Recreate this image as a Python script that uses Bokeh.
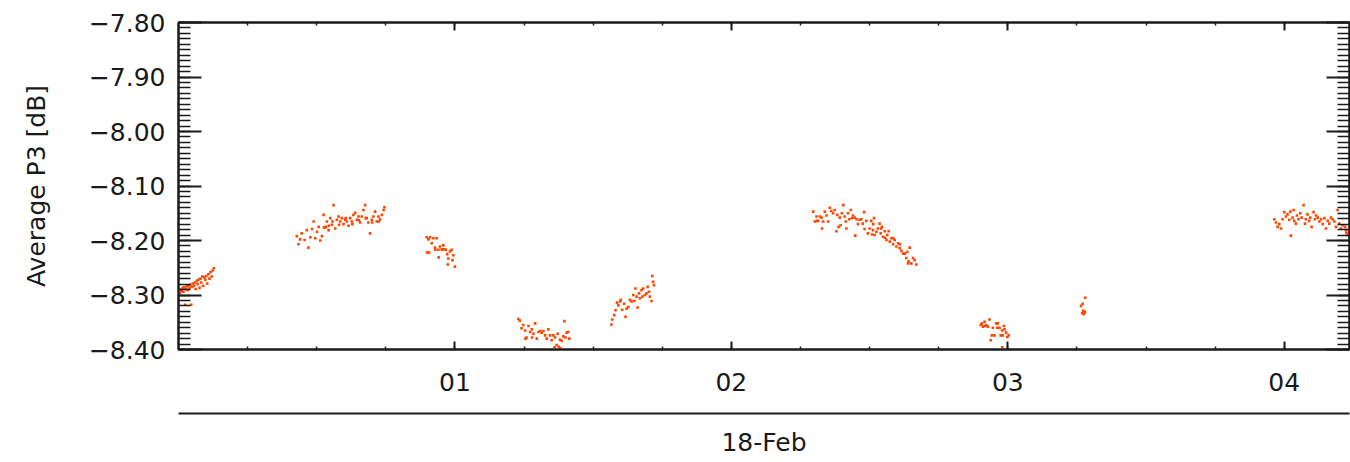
import numpy as np
from bokeh.plotting import figure
from bokeh.models import (ColumnDataSource, Range1d, LinearAxis, FixedTicker,
                          CustomJSTickFormatter)
from bokeh.embed import file_html
from bokeh.resources import INLINE

# ---------------- data (hours after 00 UT on 18-Feb, average P3 in dB) ----------------
s1_h = [0.003, 0.006, 0.009, 0.012, 0.015, 0.018, 0.021, 0.024, 0.027, 0.030,
        0.033, 0.036, 0.040, 0.043, 0.046, 0.049, 0.052, 0.056, 0.059, 0.062,
        0.066, 0.069, 0.072, 0.076, 0.079, 0.082, 0.086, 0.089, 0.093, 0.097,
        0.100, 0.104, 0.108, 0.112, 0.116, 0.120, 0.124, 0.128]
s1_db = [-8.293, -8.296, -8.290, -8.292, -8.287, -8.294, -8.286, -8.318, -8.289, -8.284,
         -8.291, -8.283, -8.287, -8.281, -8.318, -8.285, -8.279, -8.283, -8.277, -8.289,
         -8.274, -8.280, -8.272, -8.287, -8.270, -8.277, -8.266, -8.283, -8.268, -8.272,
         -8.265, -8.279, -8.262, -8.270, -8.258, -8.266, -8.255, -8.251]

s2_h = [0.428, 0.434, 0.440, 0.446, 0.456, 0.464, 0.470, 0.477, 0.483, 0.489,
        0.495, 0.501, 0.507, 0.513, 0.519, 0.525, 0.526, 0.531, 0.533, 0.537,
        0.543, 0.544, 0.549, 0.555, 0.557, 0.561, 0.567, 0.573, 0.579, 0.581,
        0.585, 0.591, 0.597, 0.603, 0.605, 0.609, 0.615, 0.621, 0.627, 0.629,
        0.633, 0.639, 0.645, 0.651, 0.653, 0.657, 0.663, 0.669, 0.675, 0.677,
        0.681, 0.687, 0.693, 0.699, 0.701, 0.705, 0.711, 0.717, 0.723, 0.725,
        0.729, 0.736, 0.742, 0.745]
s2_db = [-8.192, -8.207, -8.198, -8.187, -8.199, -8.181, -8.213, -8.194, -8.179, -8.165,
         -8.196, -8.184, -8.175, -8.200, -8.192, -8.153, -8.176, -8.176, -8.175, -8.165,
         -8.181, -8.173, -8.159, -8.171, -8.165, -8.135, -8.178, -8.162, -8.156, -8.171,
         -8.165, -8.159, -8.170, -8.162, -8.159, -8.165, -8.173, -8.159, -8.165, -8.170,
         -8.153, -8.149, -8.162, -8.156, -8.163, -8.167, -8.156, -8.144, -8.135, -8.159,
         -8.159, -8.167, -8.187, -8.162, -8.167, -8.156, -8.147, -8.165, -8.156, -8.165,
         -8.161, -8.153, -8.144, -8.139]

s3_h = [0.898, 0.899, 0.904, 0.907, 0.910, 0.916, 0.922, 0.928, 0.929, 0.934,
        0.940, 0.941, 0.946, 0.952, 0.955, 0.958, 0.962, 0.967, 0.972, 0.974,
        0.976, 0.982, 0.988, 0.991, 0.994, 1.000]
s3_db = [-8.194, -8.222, -8.198, -8.222, -8.194, -8.205, -8.196, -8.213, -8.217, -8.196,
         -8.217, -8.231, -8.211, -8.216, -8.217, -8.209, -8.216, -8.217, -8.225, -8.244,
         -8.233, -8.220, -8.217, -8.236, -8.227, -8.248]

s4_h = [1.229, 1.235, 1.241, 1.247, 1.254, 1.255, 1.259, 1.266, 1.272, 1.278,
        1.279, 1.284, 1.290, 1.296, 1.302, 1.308, 1.314, 1.320, 1.326, 1.332,
        1.338, 1.344, 1.350, 1.356, 1.360, 1.362, 1.368, 1.372, 1.376, 1.380,
        1.381, 1.386, 1.392, 1.396, 1.400, 1.404, 1.410, 1.414]
s4_db = [-8.344, -8.347, -8.361, -8.355, -8.365, -8.380, -8.378, -8.357, -8.368, -8.363,
         -8.378, -8.371, -8.352, -8.380, -8.368, -8.366, -8.369, -8.366, -8.374, -8.380,
         -8.363, -8.374, -8.383, -8.374, -8.396, -8.378, -8.392, -8.371, -8.395, -8.382,
         -8.398, -8.384, -8.376, -8.348, -8.378, -8.369, -8.368, -8.380]

s5_h = [1.566, 1.569, 1.576, 1.581, 1.586, 1.591, 1.597, 1.600, 1.605, 1.612,
        1.617, 1.621, 1.627, 1.633, 1.639, 1.645, 1.649, 1.653, 1.657, 1.661,
        1.666, 1.669, 1.675, 1.678, 1.681, 1.687, 1.693, 1.697, 1.702, 1.705,
        1.711, 1.714, 1.717, 1.720]
s5_db = [-8.354, -8.345, -8.337, -8.328, -8.314, -8.319, -8.312, -8.309, -8.327, -8.316,
         -8.340, -8.325, -8.322, -8.309, -8.312, -8.300, -8.311, -8.288, -8.303, -8.323,
         -8.297, -8.306, -8.291, -8.303, -8.288, -8.300, -8.297, -8.285, -8.294, -8.303,
         -8.311, -8.265, -8.276, -8.282]

s6_h = [2.296, 2.302, 2.308, 2.309, 2.314, 2.320, 2.326, 2.328, 2.332, 2.338,
        2.344, 2.350, 2.356, 2.362, 2.368, 2.374, 2.380, 2.383, 2.388, 2.392,
        2.395, 2.400, 2.405, 2.410, 2.414, 2.416, 2.422, 2.426, 2.432, 2.436,
        2.440, 2.446, 2.448, 2.453, 2.458, 2.464, 2.470, 2.475, 2.480, 2.482,
        2.488, 2.494, 2.500, 2.506, 2.509, 2.512, 2.513, 2.516, 2.518, 2.524,
        2.530, 2.536, 2.540, 2.542, 2.545, 2.549, 2.555, 2.556, 2.561, 2.564,
        2.569, 2.573, 2.579, 2.585, 2.586, 2.591, 2.597, 2.603, 2.609, 2.610,
        2.615, 2.621, 2.627, 2.633, 2.636, 2.639, 2.641, 2.645, 2.651, 2.657,
        2.663, 2.669]
s6_db = [-8.147, -8.165, -8.156, -8.164, -8.164, -8.156, -8.158, -8.178, -8.165, -8.147,
         -8.154, -8.165, -8.140, -8.146, -8.150, -8.144, -8.183, -8.153, -8.175, -8.158,
         -8.172, -8.150, -8.135, -8.156, -8.165, -8.178, -8.150, -8.161, -8.144, -8.159,
         -8.154, -8.158, -8.191, -8.161, -8.170, -8.162, -8.161, -8.169, -8.148, -8.179,
         -8.164, -8.187, -8.178, -8.164, -8.189, -8.181, -8.170, -8.159, -8.190, -8.184,
         -8.178, -8.169, -8.187, -8.178, -8.175, -8.193, -8.183, -8.195, -8.199, -8.190,
         -8.183, -8.202, -8.196, -8.207, -8.196, -8.199, -8.211, -8.205, -8.214, -8.207,
         -8.219, -8.224, -8.224, -8.232, -8.221, -8.242, -8.238, -8.213, -8.242, -8.232,
         -8.236, -8.244]

s7_h = [2.902, 2.906, 2.910, 2.916, 2.918, 2.922, 2.928, 2.934, 2.938, 2.942,
        2.946, 2.952, 2.958, 2.962, 2.964, 2.970, 2.974, 2.979, 2.980, 2.982,
        2.986, 2.988, 2.994, 2.998, 3.003]
s7_db = [-8.355, -8.352, -8.358, -8.349, -8.357, -8.355, -8.358, -8.345, -8.383, -8.374,
         -8.360, -8.374, -8.352, -8.360, -8.352, -8.360, -8.374, -8.365, -8.396, -8.374,
         -8.357, -8.363, -8.369, -8.377, -8.374]

s8_h = [3.265, 3.269, 3.271, 3.273, 3.275, 3.279, 3.280]
s8_db = [-8.320, -8.333, -8.316, -8.329, -8.335, -8.331, -8.305]

s9_h = [3.964, 3.970, 3.976, 3.982, 3.988, 3.994, 4.000, 4.006, 4.012, 4.018,
        4.022, 4.024, 4.030, 4.034, 4.036, 4.042, 4.046, 4.051, 4.058, 4.063,
        4.070, 4.075, 4.078, 4.084, 4.090, 4.094, 4.099, 4.106, 4.111, 4.115,
        4.121, 4.127, 4.133, 4.139, 4.145, 4.151, 4.157, 4.163, 4.169, 4.175,
        4.181, 4.187, 4.193, 4.199, 4.205, 4.211, 4.220, 4.223, 4.225, 4.230, 4.235]
s9_db = [-8.161, -8.167, -8.175, -8.170, -8.178, -8.161, -8.148, -8.156, -8.152, -8.162,
         -8.147, -8.191, -8.158, -8.144, -8.164, -8.169, -8.154, -8.161, -8.150, -8.158,
         -8.135, -8.169, -8.161, -8.152, -8.164, -8.158, -8.175, -8.148, -8.161, -8.154,
         -8.158, -8.165, -8.161, -8.170, -8.159, -8.178, -8.164, -8.169, -8.158, -8.161,
         -8.165, -8.175, -8.144, -8.169, -8.178, -8.172, -8.175, -8.181, -8.186, -8.190, -8.184]

x_major = [1, 2, 3, 4]
y_major = [-8.4, -8.3, -8.2, -8.1, -8.0, -7.9, -7.8]
date_label = "18-Feb"
y_title = "Average P3 [dB]"

# ---------------- figure ----------------
FONT = "DejaVu Sans"
FS = "25px"
INK = "#1a1a1a"
DOT = "#ff4500"

hours = s1_h + s2_h + s3_h + s4_h + s5_h + s6_h + s7_h + s8_h + s9_h
dbs = s1_db + s2_db + s3_db + s4_db + s5_db + s6_db + s7_db + s8_db + s9_db
src = ColumnDataSource(dict(h=hours, db=dbs))

p = figure(width=1350, height=460, output_backend="svg", toolbar_location=None,
           x_range=Range1d(0.0, 4.236), y_range=Range1d(-8.40, -7.80),
           x_axis_location=None, y_axis_location=None,
           min_border_left=178, min_border_right=1, min_border_top=22,
           min_border_bottom=111)
for g in p.grid:
    g.visible = False
p.outline_line_color = INK
p.outline_line_width = 2
p.background_fill_color = "white"
p.border_fill_color = "white"

x_minor = list(np.round(np.arange(0.25, 4.26, 0.25), 2))
y_minor = list(np.round(np.arange(-8.40, -7.795, 0.01), 2))
xt = FixedTicker(ticks=x_major, minor_ticks=x_minor)
yt = FixedTicker(ticks=y_major, minor_ticks=y_minor)

x_fmt = CustomJSTickFormatter(code="return (tick < 10 ? '0' : '') + tick.toFixed(0);")
y_fmt = CustomJSTickFormatter(code="return (tick < 0 ? '\\u2212' : '') + Math.abs(tick).toFixed(2);")
blank = CustomJSTickFormatter(code="return '';")


def style(ax, major_in, minor_in):
    ax.major_tick_in = major_in
    ax.major_tick_out = 0
    ax.minor_tick_in = minor_in
    ax.minor_tick_out = 0
    ax.axis_line_color = INK
    ax.axis_line_width = 2
    ax.major_tick_line_color = INK
    ax.major_tick_line_width = 2
    ax.minor_tick_line_color = INK
    ax.minor_tick_line_width = 1.5
    ax.major_label_text_font = FONT
    ax.major_label_text_font_size = FS
    ax.major_label_text_color = INK
    ax.axis_label_text_font = FONT
    ax.axis_label_text_font_size = FS
    ax.axis_label_text_font_style = "normal"
    ax.axis_label_text_color = INK


left = LinearAxis(ticker=yt, formatter=y_fmt, axis_label=y_title)
style(left, 23, 12)
left.major_label_standoff = 13
left.axis_label_standoff = 35
p.add_layout(left, "left")

right = LinearAxis(ticker=yt, formatter=blank)
style(right, 23, 12)
right.major_label_standoff = 0
right.major_label_text_font_size = "0px"
p.add_layout(right, "right")

bottom = LinearAxis(ticker=xt, formatter=x_fmt, axis_label="\u00a0")
style(bottom, 8, 3)
bottom.major_label_standoff = 23
bottom.axis_label_text_font_size = "12px"
bottom.axis_label_standoff = 3
p.add_layout(bottom, "below")

date_ax = LinearAxis(ticker=FixedTicker(ticks=[]), formatter=blank, axis_label=date_label)
style(date_ax, 0, 0)
date_ax.major_label_standoff = 0
date_ax.major_label_text_font_size = "0px"
date_ax.axis_label_standoff = 14
p.add_layout(date_ax, "below")

top = LinearAxis(ticker=xt, formatter=blank)
style(top, 8, 3)
top.major_label_standoff = 0
top.major_label_text_font_size = "0px"
p.add_layout(top, "above")

p.scatter("h", "db", source=src, marker="square", size=2.6,
          fill_color=DOT, line_color=None)

open("out.html", "w").write(file_html(p, INLINE))
